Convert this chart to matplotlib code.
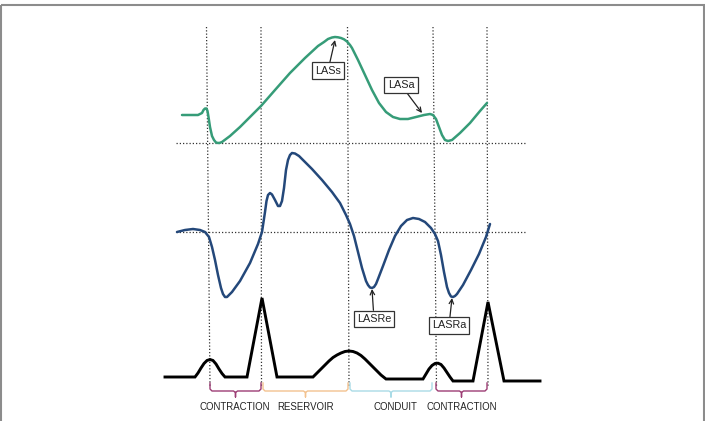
import matplotlib
matplotlib.use("Agg")
import matplotlib.pyplot as plt
from matplotlib.patches import Rectangle

plt.rcParams['font.family'] = ['Liberation Sans Narrow', 'Liberation Sans', 'DejaVu Sans']

# --- curves (x, y in picture pixels, y downward) ---
strain_x = [182, 190, 198, 202, 203.5, 205, 206.5, 207.5, 208.5, 210, 212, 214, 216, 218, 220, 222,
            230, 240, 250, 261, 275, 290, 305, 318, 324, 328, 332, 335, 338, 341, 344, 347,
            350, 352, 358, 365, 372, 379, 386, 393, 400, 408, 416, 424, 430, 433, 436, 439,
            442, 445, 448, 452, 460, 470, 480, 487]
strain_y = [115, 115, 115, 113, 110, 108.5, 108.5, 111, 117, 127, 136, 140, 142.5, 143, 142.8, 142,
            136, 127, 117, 106, 90, 73, 58, 46, 42, 39, 37.5, 37, 37.3, 38, 39.3, 41.5,
            45, 48, 60, 75, 90, 103, 112, 117, 119, 119, 117, 115, 114, 115, 119, 127,
            135, 140, 141, 140, 133, 123, 111, 103]

rate_x = [177, 185, 193, 200, 205, 209, 212, 215, 218, 221, 223, 225, 227, 229, 232, 240,
          250, 258, 262, 265, 266.5, 268, 270, 272, 275, 278, 280, 282, 284, 286, 288, 290,
          292, 295, 299, 302, 312, 322, 332, 340, 346, 350, 354, 358, 362, 366, 368, 370,
          372, 374, 376, 378, 383, 389, 395, 401, 407, 413, 419, 425, 431, 435, 438, 441,
          444, 447, 449, 451, 453, 455, 457, 463, 471, 479, 486, 490]
rate_y = [232, 230, 229, 230, 232, 237, 247, 260, 275, 288, 294, 297, 297, 295, 292, 281,
          263, 244, 232, 212, 201, 195, 193, 194.5, 200, 206, 206, 201, 188, 170, 160, 155,
          153, 153.5, 156, 159, 169, 180, 192, 203, 215, 224, 236, 252, 268, 281, 285, 287.5,
          288, 287, 284, 279, 266, 250, 236, 226, 220, 218, 219, 222, 228, 234, 241, 255,
          272, 287, 293, 296.5, 297, 296, 294, 285, 270, 254, 237, 224]

ecg_x = [165, 195, 198, 201, 204, 207, 210, 213, 216, 219, 222, 225, 247, 262, 277, 313,
         317, 321, 325, 329, 333, 337, 341, 345, 349, 353, 357, 361, 365, 369, 373, 377,
         381, 386, 423, 426, 429, 432, 435, 438, 441, 444, 447, 450, 453, 473, 488, 504, 540]
ecg_y = [377, 377, 373, 368, 363.5, 360.5, 359.5, 360.5, 364, 369, 373.5, 377, 377, 298, 377, 377,
         373, 369, 365, 361, 357.5, 355, 353, 351.5, 351, 351.5, 353, 355.5, 359, 363, 367, 371,
         375, 379, 379, 374, 369, 365.5, 363.5, 363.2, 364.5, 368, 372.5, 377, 381, 381, 302, 381, 381]

# dotted guides
vline_top_x = [206.5, 261, 347.5, 433, 487]
vline_bot_x = [210, 261.5, 349, 436.5, 488]
hline_y = [143, 232]

# annotations: label, text centre, arrow tip
ann_labels = ['LASs', 'LASa', 'LASRe', 'LASRa']
ann_text_xy = [(328, 70.5), (401, 85), (374, 319), (449, 325.5)]
ann_tip_xy = [(335, 40), (422, 113), (372, 289), (452, 298)]

# phases under the ECG
phase_names = ['CONTRACTION', 'RESERVOIR', 'CONDUIT', 'CONTRACTION']
phase_start = [210, 263, 350, 436]
phase_end = [261, 348, 432, 487]
phase_colors = ['#9c3d74', '#f3c28f', '#a9dbe6', '#9c3d74']
phase_label_x = [235, 306, 395, 462]

fig = plt.figure(figsize=(7.05, 4.21), dpi=100)
ax = fig.add_axes([0, 0, 1, 1])
ax.set_xlim(0, 705)
ax.set_ylim(421, 0)
ax.axis('off')

# grey frame of the figure
ax.add_patch(Rectangle((1, 5), 703, 430, fill=False, ec='#8c8c8c', lw=1.5))

for x0, x1 in zip(vline_top_x, vline_bot_x):
    ax.plot([x0, x1], [27, 386], color='#333333', lw=0.9, ls=(0, (1, 1.6)), zorder=1)
for y in hline_y:
    ax.plot([176, 526], [y, y], color='#333333', lw=0.9, ls=(0, (1, 1.6)), zorder=1)

ax.plot(strain_x, strain_y, color='#369c78', lw=1.8, solid_capstyle='round', zorder=3)
ax.plot(rate_x, rate_y, color='#24487a', lw=1.8, solid_capstyle='round', zorder=3)
ax.plot(ecg_x, ecg_y, color='black', lw=2.1, solid_joinstyle='miter', zorder=3)

for lab, txy, tip in zip(ann_labels, ann_text_xy, ann_tip_xy):
    ax.annotate(lab, xy=tip, xytext=txy, ha='center', va='center', fontsize=7.8,
                color='#222222', zorder=5,
                bbox=dict(boxstyle='square,pad=0.3', fc='white', ec='#333333', lw=0.9),
                arrowprops=dict(arrowstyle='->', color='#222222', lw=0.9,
                                shrinkA=0, shrinkB=0, mutation_scale=8))

# curly braces for the phases
for x0, x1, c, name, lx in zip(phase_start, phase_end, phase_colors, phase_names, phase_label_x):
    xm = (x0 + x1) / 2
    bx = [x0, x0, x0 + 2, xm - 2, xm, xm, xm, xm + 2, x1 - 2, x1, x1]
    by = [383, 389, 391, 391, 392.5, 397, 392.5, 391, 391, 389, 383]
    ax.plot(bx, by, color=c, lw=1.0, zorder=2)
    ax.text(lx, 407.5, name, ha='center', va='center', fontsize=6.9, color='#222222')

fig.savefig('out.png', dpi=100)
